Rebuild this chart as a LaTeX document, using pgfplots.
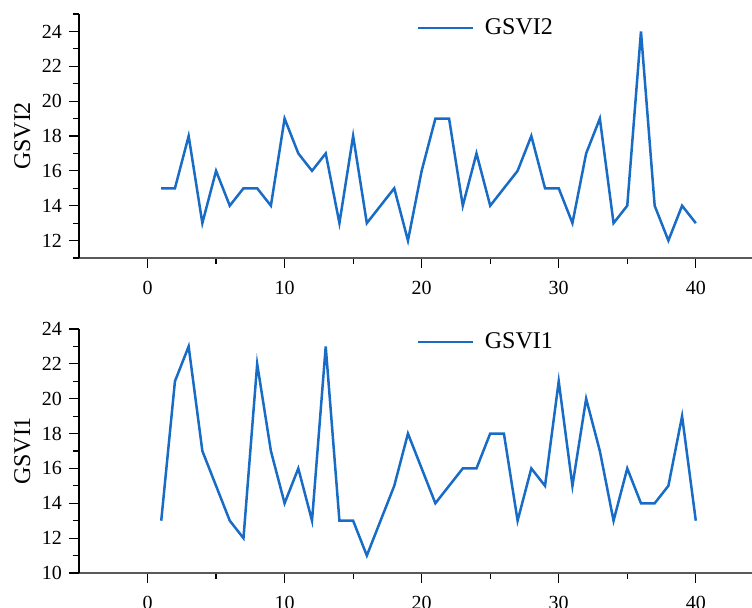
\documentclass[border=0pt]{standalone}
\usepackage{pgfplots}
\pgfplotsset{compat=1.18}
\usepackage{fontspec}
\setmainfont{Liberation Serif}
\definecolor{lineblue}{RGB}{24,108,198}
\pgfplotsset{
 myaxis/.style={
  scale only axis, width=336.5pt, height=122pt,
  xmin=-5, xmax=44.1,
  axis x line*=bottom, axis y line*=left,
  xtick={0,10,20,30,40}, minor x tick num=1,
  ytick distance=2, minor y tick num=1,
  tick align=outside,
  major tick length=5pt, minor tick length=3pt,
  every tick/.style={black, line width=0.6pt},
  x axis line style={draw=black!65, line width=0.7pt},
  y axis line style={black, line width=0.6pt},
  tick label style={font=\fontsize{10}{12}\selectfont},
  /pgf/number format/assume math mode=true,
  xticklabel style={yshift=-3pt},
  label style={font=\fontsize{12}{14}\selectfont},
  ylabel style={at={(axis description cs:-0.084,0.5)}, anchor=center},
  legend style={draw=none, fill=none, font=\fontsize{12}{14}\selectfont, anchor=west, legend cell align=left},
  legend image code/.code={\draw[#1] (0pt,0pt) -- (27.5pt,0pt); \path (31pt,0pt);},
  clip=false,
 },
 myline/.style={lineblue, line width=1.25pt, line join=miter, no marks},
}
\pgfplotstableread{
x y
1 15
2 15
3 18
4 13
5 16
6 14
7 15
8 15
9 14
10 19
11 17
12 16
13 17
14 13
15 18
16 13
17 14
18 15
19 12
20 16
21 19
22 19
23 14
24 17
25 14
26 15
27 16
28 18
29 15
30 15
31 13
32 17
33 19
34 13
35 14
36 24
37 14
38 12
39 14
40 13
}\gsvitwo
\pgfplotstableread{
x y
1 13
2 21
3 23
4 17
5 15
6 13
7 12
8 22
9 17
10 14
11 16
12 13
13 23
14 13
15 13
16 11
17 13
18 15
19 18
20 16
21 14
22 15
23 16
24 16
25 18
26 18
27 13
28 16
29 15
30 21
31 15
32 20
33 17
34 13
35 16
36 14
37 14
38 15
39 19
40 13
}\gsvione
\begin{document}
\begin{tikzpicture}
\begin{axis}[myaxis, ymin=11, ymax=25, ylabel={GSVI2},
  legend style={at={(axis description cs:0.4918,0.943)}}]
\addplot[myline] table[x=x,y=y]{\gsvitwo};
\addlegendentry{GSVI2}
\end{axis}
\begin{axis}[myaxis, at={(0,-157.5pt)}, ymin=10, ymax=24, ylabel={GSVI1},
  legend style={at={(axis description cs:0.4918,0.947)}}]
\addplot[myline] table[x=x,y=y]{\gsvione};
\addlegendentry{GSVI1}
\end{axis}
\pgfresetboundingbox
\useasboundingbox (-39.5pt,-175pt) rectangle (336.5pt,129pt);
\end{tikzpicture}
\end{document}
